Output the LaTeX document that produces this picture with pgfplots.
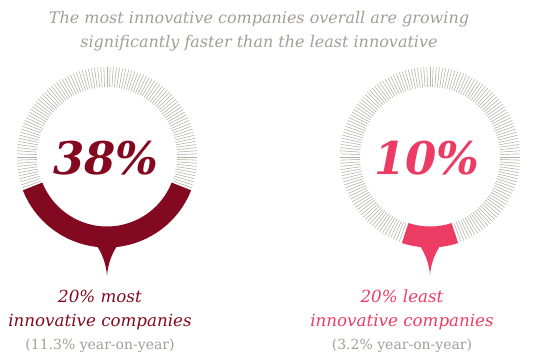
\documentclass[border=0pt]{standalone}
\usepackage{pgfplots}
\pgfplotsset{compat=1.18}
\usepackage{fontspec}
\setmainfont{DejaVu Serif}
\definecolor{maroon}{HTML}{82091F}
\definecolor{pinkred}{HTML}{EC3C63}
\definecolor{tickgray}{HTML}{B3ADA6}
\definecolor{txtgray}{HTML}{A39D97}
\begin{document}
\begin{tikzpicture}
\path[use as bounding box] (0,0) rectangle (556pt,359pt);
% values (percent growth gap)
\def\vA{38}
\def\vB{10}
\begin{axis}[at={(0,0)},anchor=south west,width=556pt,height=359pt,scale only axis,
  xmin=0,xmax=556,ymin=0,ymax=359,hide axis,clip=false]
% tick rings
\pgfplotsinvokeforeach{0,...,179}{
  \draw[tickgray,line width=0.55pt] (axis cs:{107+70*cos(#1*2)},{202+70*sin(#1*2)}) -- (axis cs:{107+90*cos(#1*2)},{202+90*sin(#1*2)});
  \draw[tickgray,line width=0.55pt] (axis cs:{430+70*cos(#1*2)},{202+70*sin(#1*2)}) -- (axis cs:{430+90*cos(#1*2)},{202+90*sin(#1*2)});
}
% filled value arcs
\fill[maroon] (axis cs:{107+90.5*cos(270-\vA*1.8)},{202+90.5*sin(270-\vA*1.8)})
   arc[start angle={270-\vA*1.8}, end angle={270+\vA*1.8}, radius=90.5pt]
   -- (axis cs:{107+69.5*cos(270+\vA*1.8)},{202+69.5*sin(270+\vA*1.8)})
   arc[start angle={270+\vA*1.8}, end angle={270-\vA*1.8}, radius=69.5pt] -- cycle;
\fill[pinkred] (axis cs:{430+90.5*cos(270-\vB*1.8)},{202+90.5*sin(270-\vB*1.8)})
   arc[start angle={270-\vB*1.8}, end angle={270+\vB*1.8}, radius=90.5pt]
   -- (axis cs:{430+69.5*cos(270+\vB*1.8)},{202+69.5*sin(270+\vB*1.8)})
   arc[start angle={270+\vB*1.8}, end angle={270-\vB*1.8}, radius=69.5pt] -- cycle;
% pointers
\fill[maroon] (axis cs:95,116) .. controls (axis cs:102,106) and (axis cs:106,96) .. (axis cs:107,83)
   .. controls (axis cs:108,96) and (axis cs:112,106) .. (axis cs:119,116) -- cycle;
\fill[pinkred] (axis cs:418,116) .. controls (axis cs:425,106) and (axis cs:429,96) .. (axis cs:430,84)
   .. controls (axis cs:431,96) and (axis cs:435,106) .. (axis cs:442,116) -- cycle;
% big numbers
\node[anchor=base,text=maroon,font=\fontsize{45}{54}\selectfont\bfseries\itshape,inner sep=0pt] at (axis cs:106,184) {\vA\%};
\node[anchor=base,text=pinkred,font=\fontsize{45}{54}\selectfont\bfseries\itshape,inner sep=0pt] at (axis cs:427,184) {\vB\%};
% title
\node[anchor=base,text=txtgray,font=\fontsize{16}{19}\selectfont\itshape,inner sep=0pt] at (axis cs:259,335) {The most innovative companies overall are growing};
\node[anchor=base,text=txtgray,font=\fontsize{16}{19}\selectfont\itshape,inner sep=0pt] at (axis cs:259,311) {significantly faster than the least innovative};
% labels
\node[anchor=base,text=maroon,font=\fontsize{16.7}{20}\selectfont\itshape,inner sep=0pt] at (axis cs:100,57) {20\% most};
\node[anchor=base,text=maroon,font=\fontsize{16.7}{20}\selectfont\itshape,inner sep=0pt] at (axis cs:100,33) {innovative companies};
\node[anchor=base,text=txtgray,font=\fontsize{14}{17}\selectfont,inner sep=0pt] at (axis cs:100,10) {(11.3\% year-on-year)};
\node[anchor=base,text=pinkred,font=\fontsize{16.7}{20}\selectfont\itshape,inner sep=0pt] at (axis cs:402,57) {20\% least};
\node[anchor=base,text=pinkred,font=\fontsize{16.7}{20}\selectfont\itshape,inner sep=0pt] at (axis cs:402,33) {innovative companies};
\node[anchor=base,text=txtgray,font=\fontsize{14}{17}\selectfont,inner sep=0pt] at (axis cs:402,10) {(3.2\% year-on-year)};
\end{axis}
\end{tikzpicture}
\end{document}
